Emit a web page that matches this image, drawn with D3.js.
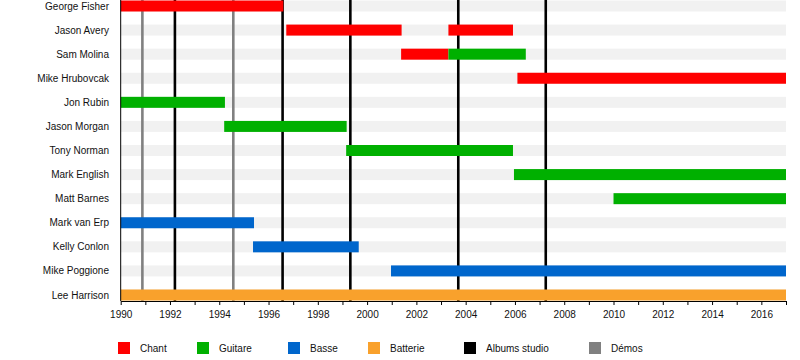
<!DOCTYPE html>
<html>
<head>
<meta charset="utf-8">
<script src="https://cdn.jsdelivr.net/npm/d3@7"></script>
<style>
  html, body { margin: 0; padding: 0; background: #fff; }
  svg { display: block; font-family: "Liberation Sans", Arial, sans-serif; }
</style>
</head>
<body>
<svg id="chart" width="800" height="360"></svg>
<script>
// ---- Data ----
const members = ["George Fisher", "Jason Avery", "Sam Molina", "Mike Hrubovcak", "Jon Rubin",
  "Jason Morgan", "Tony Norman", "Mark English", "Matt Barnes", "Mark van Erp",
  "Kelly Conlon", "Mike Poggione", "Lee Harrison"];

const roleNames = ["Chant", "Guitare", "Basse", "Batterie"];

const chantSpans = [
  ["George Fisher", 1990, 1996.6],
  ["Jason Avery", 1996.72, 2001.4],
  ["Jason Avery", 2003.3, 2005.92],
  ["Sam Molina", 2001.38, 2003.3],
  ["Mike Hrubovcak", 2006.1, 2017]
];
const guitareSpans = [
  ["Sam Molina", 2003.3, 2006.44],
  ["Jon Rubin", 1990, 1994.23],
  ["Jason Morgan", 1994.2, 1999.17],
  ["Tony Norman", 1999.15, 2005.92],
  ["Mark English", 2005.96, 2017],
  ["Matt Barnes", 2010.0, 2017]
];
const basseSpans = [
  ["Mark van Erp", 1990, 1995.41],
  ["Kelly Conlon", 1995.37, 1999.66],
  ["Mike Poggione", 2000.97, 2017]
];
const batterieSpans = [
  ["Lee Harrison", 1990, 2017]
];

const albumYears = [1992.2, 1996.57, 1999.32, 2003.7, 2007.25];
const demoYears = [1990.88, 1994.57];

const tickYears = d3.range(1990, 2018);
const legendLabels = ["Chant", "Guitare", "Basse", "Batterie", "Albums studio", "Démos"];

// ---- Styles ----
const roleColors = { "Chant": "#ff0000", "Guitare": "#00b000", "Basse": "#0066cc", "Batterie": "#f9a12c" };
const legendColors = ["#ff0000", "#00b000", "#0066cc", "#f9a12c", "#000000", "#808080"];
const legendX = [118, 197, 288, 368, 464, 589];

const svg = d3.select("#chart");
const left = 120.7, right = 786, axisY = 301;

const x = d3.scaleLinear().domain([1990, 2017]).range([left, right]);
const y = d3.scalePoint().domain(members).range([6, 295]);
const barH = 11;

// background stripes
svg.append("g").selectAll("rect").data(members).join("rect")
  .attr("x", x(1990)).attr("width", x(2017) - x(1990))
  .attr("y", d => y(d) - barH / 2).attr("height", barH)
  .attr("fill", "#f1f1f1");

// vertical lines (demos, albums)
svg.append("g").selectAll("line").data(demoYears).join("line")
  .attr("x1", d => x(d)).attr("x2", d => x(d))
  .attr("y1", 0).attr("y2", axisY)
  .attr("stroke", "#808080").attr("stroke-width", 2.6);
svg.append("g").selectAll("line").data(albumYears).join("line")
  .attr("x1", d => x(d)).attr("x2", d => x(d))
  .attr("y1", 0).attr("y2", axisY)
  .attr("stroke", "#000").attr("stroke-width", 2.6);

// bars
const spans = [
  ...chantSpans.map(s => ({ name: s[0], role: "Chant", a: s[1], b: s[2] })),
  ...guitareSpans.map(s => ({ name: s[0], role: "Guitare", a: s[1], b: s[2] })),
  ...basseSpans.map(s => ({ name: s[0], role: "Basse", a: s[1], b: s[2] })),
  ...batterieSpans.map(s => ({ name: s[0], role: "Batterie", a: s[1], b: s[2] }))
];
svg.append("g").selectAll("rect").data(spans).join("rect")
  .attr("x", d => x(d.a)).attr("width", d => x(d.b) - x(d.a))
  .attr("y", d => y(d.name) - barH / 2).attr("height", barH)
  .attr("fill", d => roleColors[d.role]);

// member labels
svg.append("g").selectAll("text").data(members).join("text")
  .attr("x", 109).attr("y", d => y(d)).attr("dy", "0.35em")
  .attr("text-anchor", "end").attr("font-size", 10).attr("fill", "#111")
  .text(d => d);

// left axis line
svg.append("line").attr("x1", left).attr("x2", left).attr("y1", 0).attr("y2", axisY)
  .attr("stroke", "#000").attr("stroke-width", 1);

// bottom axis
const axis = d3.axisBottom(x).tickValues(tickYears)
  .tickFormat(d => d % 2 === 0 ? String(d) : "")
  .tickSize(4).tickSizeOuter(0).tickPadding(6);
const ag = svg.append("g").attr("transform", `translate(0,${axisY})`).call(axis);
ag.select(".domain").attr("stroke", "#000");
ag.selectAll(".tick line").attr("stroke", "#000");
ag.selectAll("text").attr("font-size", 10).attr("fill", "#111")
  .attr("font-family", "\"Liberation Sans\", Arial, sans-serif");

// legend
const lg = svg.append("g").selectAll("g").data(legendLabels).join("g")
  .attr("transform", (d, i) => `translate(${legendX[i]},342)`);
lg.append("rect").attr("width", 12).attr("height", 12).attr("fill", (d, i) => legendColors[i]);
lg.append("text").attr("x", 22).attr("y", 6).attr("dy", "0.35em")
  .attr("font-size", 10).attr("fill", "#111").text(d => d);
</script>
</body>
</html>
